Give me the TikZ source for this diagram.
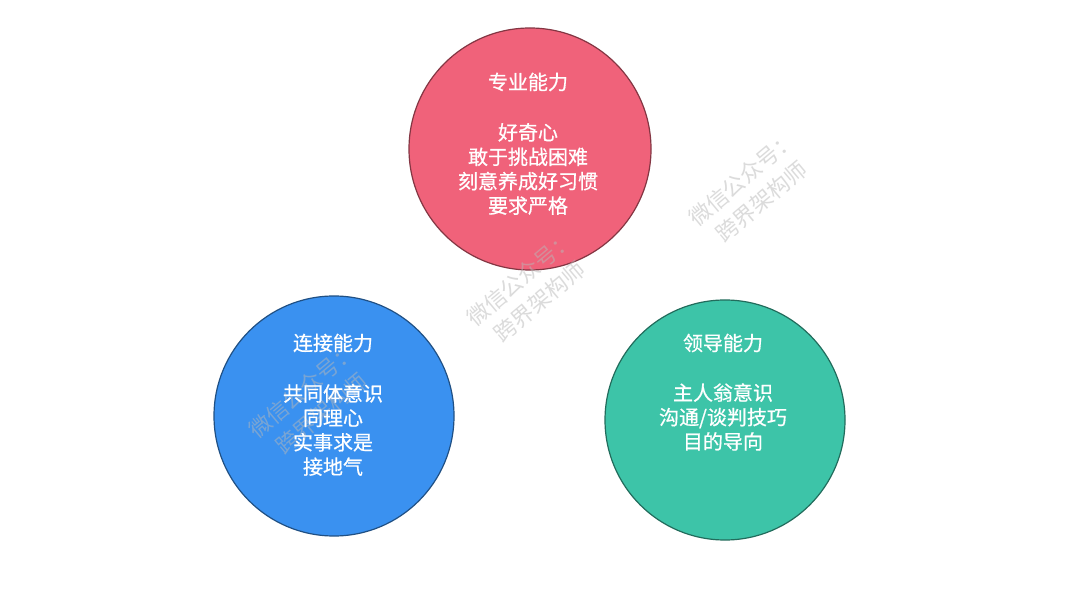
\documentclass[tikz,border=0pt]{standalone}
\usepackage{fontspec}
\newfontfamily\cjk{Noto Sans CJK SC}
\newfontfamily\cjkm[FakeBold=0.6]{Noto Sans CJK SC}
\definecolor{cred}{HTML}{F0627A}
\definecolor{cblue}{HTML}{3A91F0}
\definecolor{cgreen}{HTML}{3DC4A8}
\definecolor{wm}{HTML}{B8B8B8}
\begin{document}
\begin{tikzpicture}[x=0.5pt,y=-0.5pt,
  circ/.style={circle, inner sep=0pt, line width=0.6pt},
  label/.style={text=white, align=center, inner sep=0pt,
    font=\cjkm\fontsize{10}{12.2}\selectfont},
  wmark/.style={text=wm, opacity=0.5, align=center, inner sep=0pt, rotate=40,
    font=\cjk\fontsize{11}{15}\selectfont}]
\useasboundingbox[fill=white] (0,0) rectangle (1080,608);
% circles
\node[circ, minimum size=121pt, fill=cred, draw=cred!55!black] (zy) at (530,149) {};
\node[circ, minimum size=120pt, fill=cblue, draw=cblue!55!black] (lj) at (334,416) {};
\node[circ, minimum size=120pt, fill=cgreen, draw=cgreen!55!black] (ld) at (725,420) {};
% watermarks
\node[wmark] (w1) at (530,290) {微信公众号：\\跨界架构师};
\node[wmark] (w2) at (752,190) {微信公众号：\\跨界架构师};
\node[wmark] (w3) at (312,402) {微信公众号：\\跨界架构师};
% texts
\node[label] (zyt) at (528,82) {专业能力};
\node[label] (zyb) at (528,169) {好奇心\\敢于挑战困难\\刻意养成好习惯\\要求严格};
\node[label] (ljt) at (333,343) {连接能力};
\node[label] (ljb) at (333,430) {共同体意识\\同理心\\实事求是\\接地气};
\node[label] (ldt) at (723,343) {领导能力};
\node[label] (ldb) at (723,417) {主人翁意识\\沟通/谈判技巧\\目的导向};
\end{tikzpicture}
\end{document}
